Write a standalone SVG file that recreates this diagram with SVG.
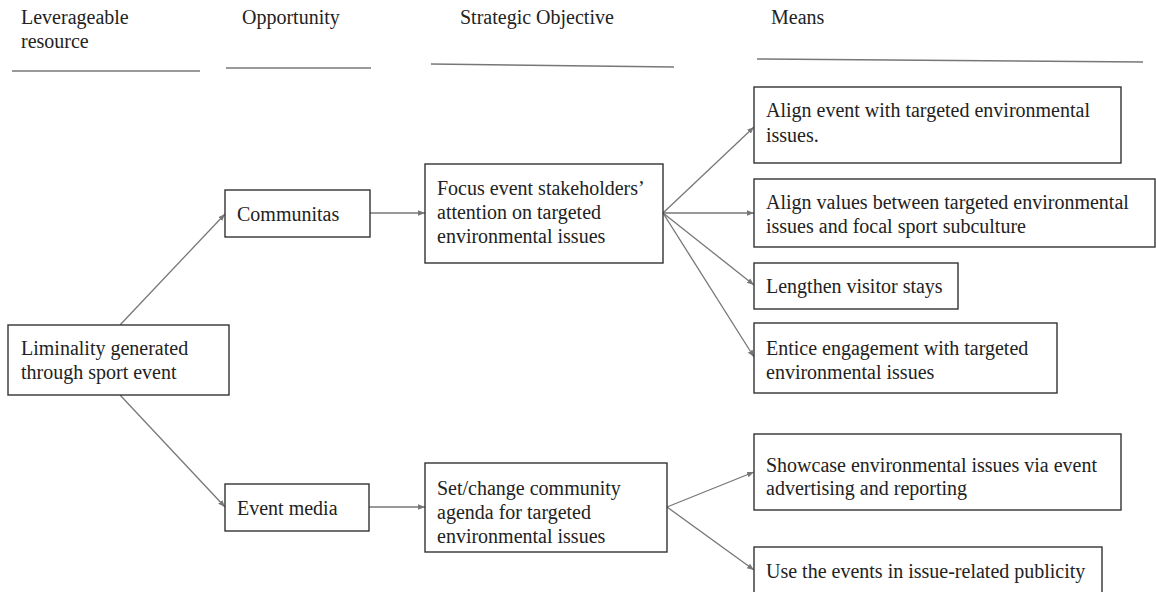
<svg xmlns="http://www.w3.org/2000/svg" width="1156" height="592" viewBox="0 0 1156 592">
<style>
text{font-family:"Liberation Serif","Times New Roman",serif;font-size:20px;fill:#222}
.box{fill:#fff;stroke:#333;stroke-width:1.4}
.rule{stroke:#777;stroke-width:1.5;fill:none}
.edge{stroke:#777;stroke-width:1.3;fill:none;marker-end:url(#ah)}
</style>
<defs>
<marker id="ah" viewBox="0 0 10 10" refX="10" refY="5" markerWidth="7" markerHeight="7" markerUnits="userSpaceOnUse" orient="auto">
<path d="M0,1 L10,5 L0,9 z" fill="#777"/>
</marker>
</defs>
<rect width="1156" height="592" fill="#fff"/>
<g id="headers">
<text x="21" y="24">Leverageable</text>
<text x="21" y="48">resource</text>
<text x="242" y="24">Opportunity</text>
<text x="460" y="24">Strategic Objective</text>
<text x="771" y="24">Means</text>
<line class="rule" x1="12" y1="71" x2="200" y2="71"/>
<line class="rule" x1="226" y1="68" x2="371" y2="68"/>
<line class="rule" x1="431" y1="64" x2="674" y2="67"/>
<line class="rule" x1="757" y1="59" x2="1143" y2="62"/>
</g>
<g id="connectors">
<line class="edge" x1="120" y1="325" x2="225" y2="214"/>
<line class="edge" x1="120" y1="395" x2="225" y2="507"/>
<line class="edge" x1="370" y1="213" x2="425" y2="213"/>
<line class="edge" x1="663" y1="213" x2="754" y2="127"/>
<line class="edge" x1="663" y1="213" x2="754" y2="213"/>
<line class="edge" x1="663" y1="213" x2="754" y2="285"/>
<line class="edge" x1="663" y1="213" x2="754" y2="357"/>
<line class="edge" x1="369" y1="507" x2="425" y2="507"/>
<line class="edge" x1="667" y1="507" x2="754" y2="472"/>
<line class="edge" x1="667" y1="507" x2="754" y2="570"/>
</g>
<g id="liminality">
<rect class="box" x="8" y="325" width="221" height="70"/>
<text x="21" y="355">Liminality generated</text>
<text x="21" y="379">through sport event</text>
</g>
<g id="communitas">
<rect class="box" x="225" y="190" width="145" height="47"/>
<text x="237" y="221">Communitas</text>
</g>
<g id="event-media">
<rect class="box" x="225" y="484" width="144" height="47"/>
<text x="237" y="515">Event media</text>
</g>
<g id="focus">
<rect class="box" x="425" y="164" width="238" height="99"/>
<text x="437" y="195">Focus event stakeholders’</text>
<text x="437" y="219">attention on targeted</text>
<text x="437" y="243">environmental issues</text>
</g>
<g id="set-change">
<rect class="box" x="425" y="463" width="242" height="89"/>
<text x="437" y="495">Set/change community</text>
<text x="437" y="519">agenda for targeted</text>
<text x="437" y="543">environmental issues</text>
</g>
<g id="align-event">
<rect class="box" x="754" y="87" width="367" height="76"/>
<text x="766" y="117">Align event with targeted environmental</text>
<text x="766" y="142">issues.</text>
</g>
<g id="align-values">
<rect class="box" x="754" y="179" width="401" height="68"/>
<text x="766" y="209">Align values between targeted environmental</text>
<text x="766" y="233">issues and focal sport subculture</text>
</g>
<g id="lengthen">
<rect class="box" x="754" y="263" width="204" height="46"/>
<text x="766" y="293">Lengthen visitor stays</text>
</g>
<g id="entice">
<rect class="box" x="754" y="323" width="303" height="70"/>
<text x="766" y="355">Entice engagement with targeted</text>
<text x="766" y="379">environmental issues</text>
</g>
<g id="showcase">
<rect class="box" x="754" y="434" width="367" height="76"/>
<text x="766" y="472">Showcase environmental issues via event</text>
<text x="766" y="495">advertising and reporting</text>
</g>
<g id="use-events">
<rect class="box" x="754" y="547" width="348" height="60"/>
<text x="766" y="578">Use the events in issue-related publicity</text>
</g>
</svg>
